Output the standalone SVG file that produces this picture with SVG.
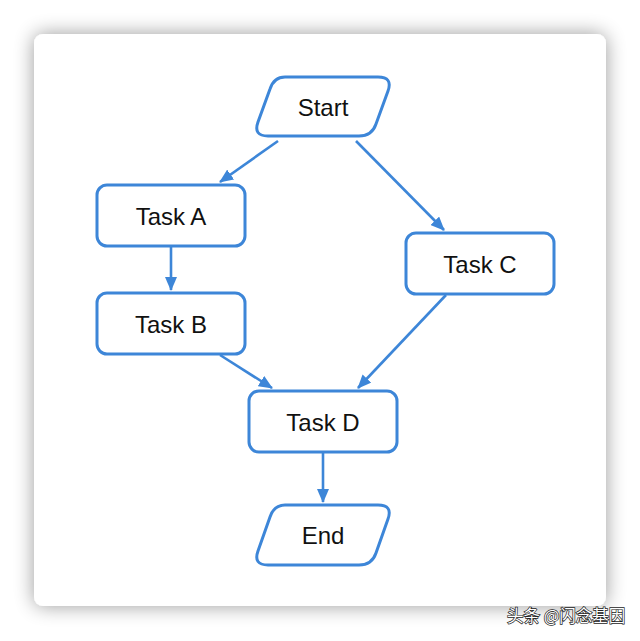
<svg xmlns="http://www.w3.org/2000/svg" width="640" height="641" viewBox="0 0 640 641">
<style>
.n{fill:#fff;stroke:#3d86d8;stroke-width:3;stroke-linejoin:round}
.t{font-family:"Liberation Sans",Arial,sans-serif;font-size:24px;fill:#111;text-anchor:middle;dominant-baseline:central}
.e{fill:none;stroke:#3d86d8;stroke-width:2.6}
.wm{font-family:"Noto Sans CJK SC",sans-serif;font-size:16.5px;fill:#fff;stroke:#222;stroke-width:1.4;paint-order:stroke}
</style>
<defs>
<filter id="sh" x="-10%" y="-10%" width="120%" height="120%">
<feGaussianBlur in="SourceAlpha" stdDeviation="10"/>
<feComponentTransfer><feFuncA type="linear" slope="0.4"/></feComponentTransfer>
<feMerge><feMergeNode/><feMergeNode in="SourceGraphic"/></feMerge>
</filter>
<marker id="ah" viewBox="0 0 14 12" refX="13" refY="6" markerWidth="14" markerHeight="12" markerUnits="userSpaceOnUse" orient="auto">
<path d="M0,0 L14,6 L0,12 Z" fill="#3d86d8"/>
</marker>
</defs>
<rect width="640" height="641" fill="#fff"/>
<rect x="34" y="34" width="572" height="572" rx="9" fill="#fff" filter="url(#sh)"/>
<g id="connectors">
<path class="e" d="M278,141 L220,182" marker-end="url(#ah)"/>
<path class="e" d="M356,141 L444,230" marker-end="url(#ah)"/>
<path class="e" d="M171,247 L171,290" marker-end="url(#ah)"/>
<path class="e" d="M220,355 L272,388" marker-end="url(#ah)"/>
<path class="e" d="M446,295 L358,388" marker-end="url(#ah)"/>
<path class="e" d="M323,453 L323,502" marker-end="url(#ah)"/>
</g>
<g id="start">
<path class="n" d="M285,77 L378,77 Q393,77 388,91 L376,124 Q372,136 359,136 L268,136 Q253,136 258,122 L270,89 Q274,77 285,77 Z"/>
<text class="t" x="323" y="107">Start</text>
</g>
<g id="taskA">
<rect class="n" x="97" y="185" width="148" height="61" rx="10"/>
<text class="t" x="171" y="216">Task A</text>
</g>
<g id="taskB">
<rect class="n" x="97" y="293" width="148" height="61" rx="10"/>
<text class="t" x="171" y="324">Task B</text>
</g>
<g id="taskC">
<rect class="n" x="406" y="233" width="148" height="61" rx="10"/>
<text class="t" x="480" y="264">Task C</text>
</g>
<g id="taskD">
<rect class="n" x="249" y="391" width="148" height="61" rx="10"/>
<text class="t" x="323" y="422">Task D</text>
</g>
<g id="end">
<path class="n" d="M285,505 L378,505 Q393,505 388,519 L376,553 Q372,565 359,565 L268,565 Q253,565 258,551 L270,517 Q274,505 285,505 Z"/>
<text class="t" x="323" y="535">End</text>
</g>
<text class="wm" x="507" y="622">头条 @闪念基因</text>
</svg>
